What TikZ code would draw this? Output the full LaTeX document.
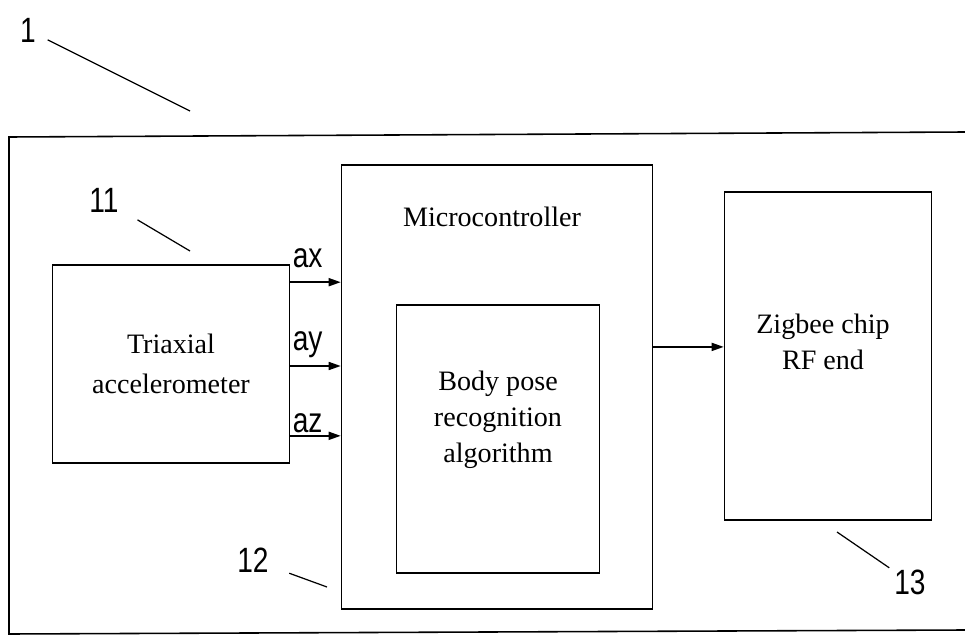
\documentclass[tikz,border=0pt]{standalone}
\usepackage{fontspec}
\setmainfont{Liberation Serif}
\newfontfamily\numfont[FakeStretch=0.8]{Liberation Sans}
\usetikzlibrary{arrows.meta,calc}

\begin{document}
\begin{tikzpicture}[x=0.02cm,y=-0.02cm,line width=0.9pt,
  box/.style={draw,rectangle,inner sep=0pt},
  txt/.style={font=\fontsize{16}{20.5}\selectfont,align=center,inner sep=0pt},
  num/.style={font=\numfont\fontsize{20}{24}\selectfont,inner sep=0pt},
  sig/.style={-{Triangle[length=0.24cm,width=0.16cm]}}]
\useasboundingbox (0,0) rectangle (965,636);
% outer frame
\draw (965,132) -- (9,137) -- (9,634) -- (965,630);
%
\node[box,minimum width=4.74cm,minimum height=3.96cm,txt] (acc) at (171,364) {Triaxial\\[2pt]accelerometer};
\node[box,minimum width=6.22cm,minimum height=8.88cm] (mcu) at (497,387) {};
\node[txt] (mcutxt) at (492,217) {Microcontroller};
\node[box,minimum width=4.06cm,minimum height=5.36cm] (alg) at (498,439) {};
\node[txt] (algtxt) at (498,420) {Body pose\\recognition\\algorithm};
\node[box,minimum width=4.14cm,minimum height=6.56cm] (zb) at (828,356) {};
\node[txt] (zbtxt) at (823,342) {Zigbee chip\\RF end};
%
\foreach \f/\s/\g in {0.09/ax/8pt,0.51/ay/4pt,0.86/az/1pt} {
  \coordinate (\s) at ($(acc.north east)!\f!(acc.south east)$);
  \draw[sig] (\s) -- (\s -| mcu.west);
  \node[num,anchor=south west,xshift=1pt,yshift=\g] (l\s) at (\s) {\s};
}
\coordinate (out) at ($(mcu.north east)!0.41!(mcu.south east)$);
\draw[sig] (out) -- (out -| zb.west);
%
\node[num] (n1) at (28,30) {1};
\node[num] (n11) at (104,200) {11};
\node[num] (n12) at (253,560) {12};
\node[num] (n13) at (910,582) {13};
\coordinate (p1) at (190,111);
\coordinate (p11) at (190,251);
\coordinate (p12) at (327,587);
\coordinate (p13) at (837,532);
\draw[line width=0.7pt,shorten <=7pt] (n1) -- (p1);
\draw[line width=0.7pt,shorten <=12pt] (n11) -- (p11);
\draw[line width=0.7pt,shorten <=12pt] (n12) -- (p12);
\draw[line width=0.7pt,shorten <=3pt] (n13) -- (p13);
\end{tikzpicture}
\end{document}
